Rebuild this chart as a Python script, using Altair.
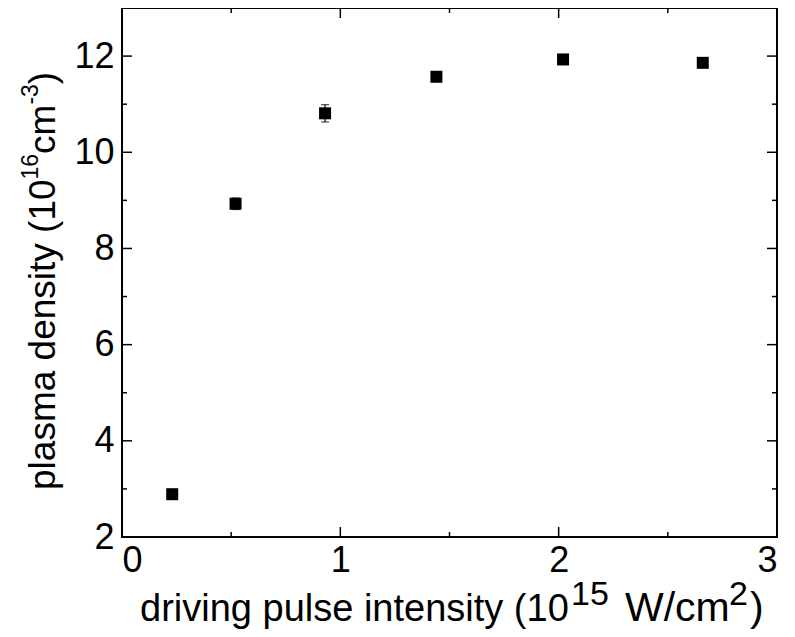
import altair as alt
import pandas as pd

# data
intensity = [0.23, 0.52, 0.93, 1.44, 2.02, 2.66]
density = [2.89, 8.93, 10.81, 11.57, 11.93, 11.86]
error = [0.05, 0.12, 0.18, 0.06, 0.05, 0.05]

x_major = [0, 1, 2, 3]
x_minor = [0.5, 1.5, 2.5]
y_major = [2, 4, 6, 8, 10, 12]
y_minor = [3, 5, 7, 9, 11, 13]

# axis titles as (text, superscript?) pieces
x_title = [("driving pulse intensity (10", False), ("15", True),
           ("W/cm", False), ("2", True), (")", False)]
y_title = [("plasma density (10", False), ("16", True),
           ("cm", False), ("-3", True), (")", False)]

W, H = 655, 529
FONT = "Liberation Sans"
MAJ, MIN = 10, 5

# Arial / Liberation Sans advance widths (per 1000 em) for layout of titles
ADV = {" ": 278, "(": 333, ")": 333, "-": 333, "/": 278, "W": 944,
       "a": 556, "c": 500, "d": 556, "e": 556, "g": 556, "i": 222,
       "l": 222, "m": 833, "n": 556, "p": 556, "r": 333, "s": 500,
       "t": 278, "u": 556, "v": 500, "y": 500}


def tw(text, size):
    return sum(ADV.get(ch, 556) for ch in text) * size / 1000.0


df = pd.DataFrame({"x": intensity, "y": density, "e": error})
df["lo"] = df["y"] - df["e"]
df["hi"] = df["y"] + df["e"]

xs = alt.Scale(domain=[0, 3], nice=False, zero=False)
ys = alt.Scale(domain=[2, 13], nice=False, zero=False)

xaxis = alt.Axis(values=x_major, ticks=False, domain=False, grid=False,
                 labelFont=FONT, labelFontSize=36, labelPadding=6,
                 labelColor="black", format="d", title=None)
yaxis = alt.Axis(values=y_major, ticks=False, domain=False, grid=False,
                 labelFont=FONT, labelFontSize=36, labelPadding=8,
                 labelColor="black", format="d", title=None)

points = alt.Chart(df).mark_point(shape="square", filled=True, size=144,
                                  color="black", opacity=1).encode(
    x=alt.X("x:Q", scale=xs, axis=xaxis),
    y=alt.Y("y:Q", scale=ys, axis=yaxis),
)
bars = alt.Chart(df).mark_rule(color="black", strokeWidth=1.2).encode(
    x=alt.X("x:Q", scale=xs), y=alt.Y("lo:Q", scale=ys), y2="hi:Q")
caps_lo = alt.Chart(df).mark_tick(color="black", thickness=1.2, size=8,
                                  orient="horizontal").encode(
    x=alt.X("x:Q", scale=xs), y=alt.Y("lo:Q", scale=ys))
caps_hi = alt.Chart(df).mark_tick(color="black", thickness=1.2, size=8,
                                  orient="horizontal").encode(
    x=alt.X("x:Q", scale=xs), y=alt.Y("hi:Q", scale=ys))


def xticks(vals, length):
    d = pd.DataFrame({"v": vals})
    bottom = alt.Chart(d).mark_rule(color="black", strokeWidth=1.5).encode(
        x=alt.X("v:Q", scale=xs), y=alt.value(H), y2=alt.value(H - length))
    top = alt.Chart(d).mark_rule(color="black", strokeWidth=1.5).encode(
        x=alt.X("v:Q", scale=xs), y=alt.value(0), y2=alt.value(length))
    return [bottom, top]


def yticks(vals, length):
    d = pd.DataFrame({"v": vals})
    left = alt.Chart(d).mark_rule(color="black", strokeWidth=1.5).encode(
        y=alt.Y("v:Q", scale=ys), x=alt.value(0), x2=alt.value(length))
    right = alt.Chart(d).mark_rule(color="black", strokeWidth=1.5).encode(
        y=alt.Y("v:Q", scale=ys), x=alt.value(W), x2=alt.value(W - length))
    return [left, right]


one = pd.DataFrame({"k": [0]})


def text_piece(text, x, y, size, angle=0):
    return alt.Chart(one).mark_text(
        text=text, font=FONT, fontSize=size, color="black",
        align="left", baseline="alphabetic", angle=angle,
    ).encode(x=alt.value(x), y=alt.value(y))


# x-axis title: pieces placed at the positions seen in the reference
X_BASE, X_RISE = 613, 16
x_pos = [18, 449, 503, 607, 628]
x_size = [38, 34, 41, 34, 41]
xt = [text_piece(t, x, X_BASE - (X_RISE if sup else 0), s)
      for (t, sup), x, s in zip(x_title, x_pos, x_size)]

# y-axis title: rotated, pieces laid out one after another upward
yt = []
pos, Y_BASE, Y_RISE = 482, -67, 17
for text, sup in y_title:
    size = 23 if sup else 37
    yt.append(text_piece(text, Y_BASE - (Y_RISE if sup else 0), pos, size,
                         angle=270))
    pos -= tw(text, size)

layers = (xticks(x_major, MAJ) + xticks(x_minor, MIN)
          + yticks(y_major, MAJ) + yticks(y_minor, MIN)
          + [bars, caps_lo, caps_hi, points] + xt + yt)

chart = alt.layer(*layers).properties(
    width=W, height=H, background="white",
    autosize=alt.AutoSizeParams(type="none"),
    padding={"left": 114, "top": 0, "right": 10, "bottom": 92},
).configure_view(stroke="black", strokeWidth=2)

chart.save("out.html", embed_options={"renderer": "svg", "actions": False})
